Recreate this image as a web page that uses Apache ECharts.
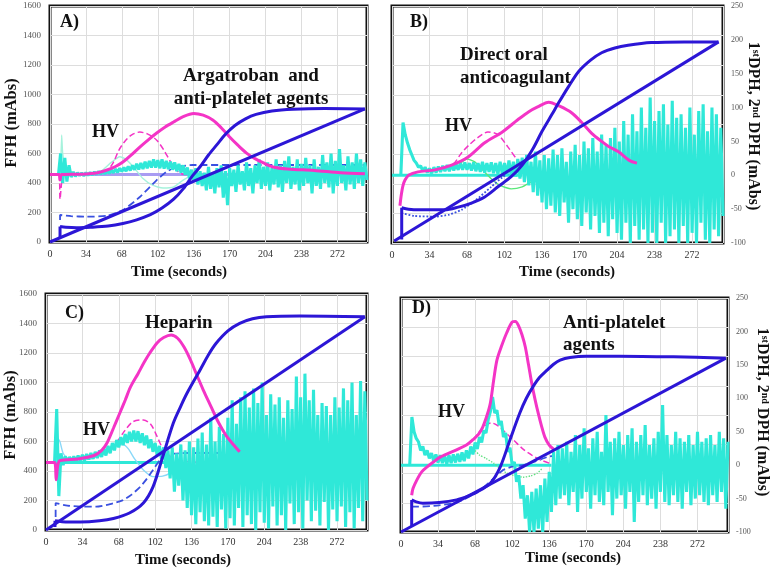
<!DOCTYPE html>
<html>
<head>
<meta charset="utf-8">
<script src="https://cdn.jsdelivr.net/npm/echarts@6/dist/echarts.min.js"></script>
<style>
html, body { margin: 0; background: #fff; }
#chart { width: 770px; height: 568px; }
</style>
</head>
<body>
<div id="chart"></div>
<script>
// time axis ticks (seconds)
const xTicks = [0, 34, 68, 102, 136, 170, 204, 238, 272];

// noisy cyan traces: one sample every 2 s starting at t = 8 s
const NOISE_T0 = 8, NOISE_DT = 2;

// ---- panel A (FFH, left axis) ----
const sigA = [[9.5,28],[9.5,105],[15,100],[25,97],[38,100],[55,108],[69,125],[82,150],[95,185],[106,230],[117,290],[126,360],[135,450],[142,510],[150,590],[158,660],[166,730],[175,790],[185,835],[195,865],[210,888],[230,900],[260,905],[298,902]];
const diagA = [[0,0],[298,902]];
const dashA = [[9.5,150],[9.5,183],[20,175],[35,172],[54,178],[69,217],[85,305],[101,420],[110,475],[117,500],[125,515],[135,522],[298,522]];
const magA = [[0,457],[8.5,457],[9.5,420],[11,457],[30,460],[45,470],[54,488],[62,512],[69,542],[77,590],[85,644],[93,693],[101,739],[109,780],[117,814],[126,850],[136,872],[145,860],[154,827],[162,775],[170,712],[178,655],[186,603],[194,565],[202,536],[211,509],[225,495],[250,485],[275,470],[298,462]];
const magDashA = [[0,457],[8.5,457],[9.5,290],[11,400],[13,457],[40,460],[50,475],[55,490],[60,540],[65,620],[70,675],[77,725],[85,745],[93,730],[101,690],[108,620],[114,545],[120,485],[126,460],[135,457]];
const thinA = [[10,457],[11,725],[12,600],[14,520],[17,480],[22,465],[35,460],[48,480],[58,540],[66,578],[72,560],[80,500],[88,430],[97,385],[107,366],[117,373],[126,420],[134,450],[140,457]];
const zeroA = [[0,457],[298,457]];
const noiseA = [455,
  600, 400, 570, 410, 520, 440, 475, 445, 470, 450,
  468, 448, 470, 452, 472, 455, 475, 458, 478, 460,
  482, 462, 485, 465, 488, 470, 495, 472, 500, 478,
  505, 480, 512, 485, 520, 490, 530, 492, 535, 495,
  545, 500, 550, 505, 560, 505, 555, 500, 560, 498,
  550, 495, 545, 490, 540, 480, 530, 470, 520, 455,
  505, 430, 490, 410, 500, 390, 480, 380, 470, 350,
  510, 360, 470, 330, 500, 370, 520, 300, 480, 250,
  500, 380, 490, 340, 520, 390, 480, 350, 540, 380,
  500, 330, 520, 400, 560, 360, 510, 380, 540, 350,
  500, 390, 560, 370, 520, 340, 550, 400, 580, 360,
  510, 390, 560, 350, 530, 380, 570, 400, 520, 330,
  560, 380, 510, 360, 590, 400, 540, 370, 600, 330,
  550, 380, 630, 400, 520, 350, 580, 390, 540, 360,
  600, 400, 560, 380, 540, 420];

// ---- panel B (DPH, right axis) ----
const sigB = [[8.8,-95],[8.8,-48],[15,-50],[24,-51],[48,-51],[60,-47],[72,-41],[84,-32],[96,-17],[108,-2],[118,15],[128,40],[136,65],[145,90],[151,107],[160,131],[169,153],[180,170],[190,181],[202,188],[214,192],[235,196],[265,197],[296,197]];
const diagB = [[2,-97],[296,197]];
const dashB = [[9,-62],[9,-56],[20,-60],[39,-61],[52,-58],[63,-51],[75,-38],[90,-17],[100,-3],[108,5]];
const magB = [[7.2,-45],[8.5,-28],[10,-15],[11.8,-7],[15,0],[23.5,5],[39,8],[54,15],[69,27],[84,48],[100,64],[114,82],[124,94],[132,101],[142,108],[152,102],[163,92],[172,78],[181,62],[190,50],[196,43],[205,35],[215,22],[222,18]];
const magDashB = [[40,8],[55,16],[63,33],[70,45],[78,56],[87,64],[96,60],[105,42],[114,22],[122,10],[128,5]];
const thinB = [[62,18],[68,24],[75,20],[82,8],[90,-5],[98,-15],[108,-20],[118,-17],[128,-8],[135,0]];
const zeroB = [[0,0],[118,0]];
const noiseB = [0,
  78, 60, 48, 38, 30, 22, 18, 12, 14, 6,
  12, 4, 10, 3, 12, 4, 13, 5, 14, 6,
  15, 6, 16, 7, 17, 8, 18, 8, 19, 8,
  18, 7, 19, 6, 18, 5, 20, 4, 18, 5,
  19, 3, 18, 2, 20, 2, 18, 0, 22, 0,
  20, -2, 24, -5, 26, -10, 30, -15, 20, -25,
  35, -30, 22, -40, 30, -50, 25, -45, 38, -55,
  30, -60, 40, -40, 20, -70, 35, -50, 45, -65,
  30, -75, 50, -55, 40, -80, 55, -60, 35, -85,
  60, -70, 45, -90, 55, -65, 70, -85, 50, -95,
  80, -70, 60, -100, 90, -75, 65, -95, 100, -80,
  70, -100, 115, -85, 80, -100, 95, -70, 105, -100,
  75, -90, 110, -80, 85, -100, 90, -75, 70, -100,
  100, -85, 60, -100, 95, -70, 105, -95, 65, -100,
  100, -80, 90, -90, 70, -60];

// ---- panel C (FFH, left axis) ----
const sigC = [[8.4,20],[8.4,62],[15,56],[32,54],[50,62],[63,78],[78,115],[91,183],[100,292],[109,495],[119,725],[126,840],[132,930],[144,1085],[152,1190],[159,1266],[170,1350],[181,1401],[193,1432],[206,1446],[237,1451],[298,1446]];
const diagC = [[0,0],[298,1446]];
const dashC = [[9,88],[9,183],[20,165],[35,158],[47,158],[60,175],[72,203],[80,240],[88,292],[94,345],[100,407],[106,470],[112,505],[120,518],[132,522],[163,522]];
const magC = [[0,457],[8,457],[9.5,340],[11,440],[13,470],[30,482],[45,505],[52,540],[57,590],[63,690],[69,793],[74,880],[79,970],[86,1060],[92,1140],[97,1200],[104,1270],[110,1305],[117,1322],[123,1300],[129,1240],[135,1153],[141,1050],[147,949],[154,840],[160,746],[165,680],[169,633],[175,580],[181,530]];
const magDashC = [[45,500],[55,530],[63,565],[72,657],[81,733],[91,746],[98,715],[104,631],[109,555],[116,500],[125,470],[141,460]];
const thinC = [[10,460],[11,620],[13,600],[16,520],[22,475],[40,480],[55,520],[65,570],[72,580],[77,550],[83,480],[91,407],[100,362],[109,365],[116,385],[124,430],[132,455]];
const zeroC = [[0,457],[111,457]];
const noiseC = [457,
  820, 230, 520, 440, 500, 460, 495, 462, 500, 465,
  505, 470, 510, 472, 515, 478, 522, 482, 530, 488,
  540, 495, 555, 505, 570, 520, 590, 540, 610, 560,
  630, 575, 650, 590, 665, 600, 675, 600, 670, 590,
  655, 575, 640, 555, 615, 530, 590, 505, 570, 480,
  560, 420, 540, 350, 560, 260, 520, 300, 580, 200,
  540, 150, 600, 100, 560, 40, 620, 120, 660, 60,
  580, 30, 760, 90, 600, 20, 700, 140, 650, 10,
  760, 80, 880, 30, 720, 150, 900, 20, 940, 100,
  830, 40, 960, 0, 860, 120, 1000, 50, 780, 10,
  920, 160, 850, 30, 900, 100, 760, 0, 880, 180,
  820, 40, 1040, 120, 900, 10, 1060, 200, 880, 60,
  950, 130, 780, 30, 860, 190, 840, 0, 780, 140,
  900, 60, 830, 160, 960, 20, 880, 120, 1000, 10,
  780, 150, 1010, 60, 940, 200];

// ---- panel D (DPH, right axis) ----
const sigD = [[9.8,-91],[9.8,-52],[14,-55],[20,-57],[35,-56],[51,-52],[62,-46],[70,-40],[82,-27],[91,-3],[100,38],[109,78],[115,100],[121,117],[127,131],[134,142],[140,151],[146,157],[155,161],[170,163],[200,163],[250,162],[298,160]];
const diagD = [[0,-100],[298,160]];
const dashD = [[10,-62],[15,-62],[30,-61],[51,-56],[65,-45],[75,-34],[85,-20],[94,-7],[103,-2],[112,0],[124,6],[134,12],[140,14]];
const magD = [[9.8,-45],[11,-35],[14.6,-22],[19,-10],[23.7,-3],[30,5],[36,12],[51,23],[60,30],[66,38],[71,46],[75,57],[79,75],[82,93],[85,127],[88,157],[92,177],[97,198],[102,214],[105,215],[108,208],[111,195],[114,177],[117,150],[120,122],[123,98],[126,77],[129,58],[132,42],[136,30],[140,24]];
const magDashD = [[60,30],[66,38],[72,50],[78,60],[83,63],[88,60],[95,50],[103,38],[112,24],[120,15],[128,8],[136,3]];
const thinD = [[68,22],[72,15],[78,10],[85,3],[91,-5],[97,-12],[105,-16],[112,-18],[119,-16],[125,-12],[130,-4]];
const zeroD = [[0,0],[138,0]];
const noiseD = [0,
  72, 50, 40, 35, 22, 28, 15, 22, 10, 18,
  6, 16, 4, 15, 3, 14, 2, 15, 3, 16,
  4, 17, 5, 19, 6, 22, 10, 28, 16, 34,
  24, 42, 34, 52, 48, 68, 80, 102, 78, 82,
  60, 66, 42, 48, 20, 26, 0, 5, -25, -15,
  -50, -30, -80, -45, -100, -40, -100, -35, -95, -30,
  -100, -20, -85, -10, -70, 20, -60, 30, -50, 25,
  -45, 35, -60, 20, -40, 45, -70, 30, -50, 55,
  -40, 25, -65, 40, -45, 50, -55, 20, -60, 75,
  -40, 35, -75, 40, -50, 50, -45, 30, -65, 45,
  -40, 55, -85, 35, -55, 45, -45, 60, -60, 30,
  -50, 40, -65, 50, -40, 90, -55, 45, -60, 30,
  -45, 50, -55, 40, -65, 35, -40, 45, -60, 30,
  -50, 50, -45, 35, -55, 40, -60, 45, -45, 30,
  -55, 50, -40, 40, -65, 35];

const BLUE = '#2c16d6';
const DASH_BLUE = '#3a50e0';
const MAGENTA = '#f434c6';
const CYAN = '#2fe8d8';
const FONT = '"Liberation Serif", "Times New Roman", serif';

const chart = echarts.init(document.getElementById('chart'));

const grids = [
    { left: 50, top: 6, width: 317, height: 236 },
    { left: 392, top: 6, width: 331, height: 237 },
    { left: 46, top: 294, width: 321, height: 236 },
    { left: 401, top: 298, width: 327, height: 234 }
].map(g => ({ ...g, show: true, borderColor: '#111', borderWidth: 3 }));

const gridLine = { show: true, lineStyle: { color: '#dddddd', width: 1 } };
const plain = v => String(v);

const xAxes = grids.map((g, i) => ({
    type: 'value', gridIndex: i, min: 0, max: 300, interval: 34,
    axisLine: { show: false }, axisTick: { show: false },
    splitLine: gridLine,
    axisLabel: { fontFamily: FONT, fontSize: 10, color: '#333', margin: 7, showMaxLabel: false, formatter: plain }
}));

const yAxes = [];
grids.forEach((g, i) => {
    const leftLabels = (i === 0 || i === 2);
    yAxes.push({
        type: 'value', gridIndex: i, position: 'left', min: 0, max: 1600, interval: 200,
        axisLine: { show: false }, axisTick: { show: false },
        splitLine: gridLine,
        axisLabel: { show: leftLabels, fontFamily: FONT, fontSize: 9, color: '#555', margin: 9, formatter: plain }
    });
    yAxes.push({
        type: 'value', gridIndex: i, position: 'right', min: -100, max: 250, interval: 50,
        axisLine: { show: false }, axisTick: { show: false },
        splitLine: { show: false },
        axisLabel: { show: !leftLabels, fontFamily: FONT, fontSize: 8, color: '#555', margin: 8, formatter: plain }
    });
});

const toNoise = arr => arr.map((v, i) => [NOISE_T0 + i * NOISE_DT, v]);

function panel(idx, yIdx, p) {
    const base = { type: 'line', xAxisIndex: idx, yAxisIndex: yIdx, symbol: 'none', showSymbol: false, silent: true, animation: false };
    return [
        { ...base, data: p.zero, lineStyle: { color: p.zeroColor, width: 3 } },
        { ...base, data: p.thin, smooth: 0.2, lineStyle: { color: p.thinColor, width: 1.4, type: p.thinType } },
        { ...base, data: p.dash, smooth: 0.2, lineStyle: { color: DASH_BLUE, width: 1.8, type: p.dashType } },
        { ...base, data: p.magDash, smooth: 0.3, lineStyle: { color: MAGENTA, width: 1.5, type: 'dashed' } },
        { ...base, data: toNoise(p.noise), lineStyle: { color: CYAN, width: 3.1, join: 'bevel' } },
        { ...base, data: p.mag, smooth: 0.3, lineStyle: { color: MAGENTA, width: 3 } },
        { ...base, data: p.sig.slice(0, 2), lineStyle: { color: BLUE, width: 3 } },
        { ...base, data: p.sig.slice(1), smooth: 0.3, lineStyle: { color: BLUE, width: 3 } },
        { ...base, data: p.diag, lineStyle: { color: BLUE, width: 3 } }
    ];
}

const series = [].concat(
    panel(0, 0, { zero: zeroA, zeroColor: '#a99cf2', thin: thinA, thinColor: '#a6f2dc', thinType: 'solid', dash: dashA, dashType: 'dashed', magDash: magDashA, noise: noiseA, mag: magA, sig: sigA, diag: diagA }),
    panel(1, 3, { zero: zeroB, zeroColor: CYAN, thin: thinB, thinColor: '#5ae87a', thinType: 'solid', dash: dashB, dashType: 'dotted', magDash: magDashB, noise: noiseB, mag: magB, sig: sigB, diag: diagB }),
    panel(2, 4, { zero: zeroC, zeroColor: CYAN, thin: thinC, thinColor: '#8ad8f8', thinType: 'solid', dash: dashC, dashType: 'dashed', magDash: magDashC, noise: noiseC, mag: magC, sig: sigC, diag: diagC }),
    panel(3, 7, { zero: zeroD, zeroColor: CYAN, thin: thinD, thinColor: '#60e080', thinType: 'dotted', dash: dashD, dashType: 'dashed', magDash: magDashD, noise: noiseD, mag: magD, sig: sigD, diag: diagD })
);

function txt(text, x, y, size, align) {
    return {
        type: 'text', x: x, y: y, z: 100,
        style: {
            text: text, font: 'bold ' + size + 'px ' + FONT, fill: '#111',
            textAlign: align || 'left', align: align || 'left',
            textVerticalAlign: 'middle', verticalAlign: 'middle'
        }
    };
}
function vtxt(text, x, y, size, rot) {
    const t = txt(text, x, y, size, 'center');
    t.rotation = rot;
    return t;
}
function dphTitle(x, y) {
    const n = { fontSize: 16, fontWeight: 'bold', fontFamily: FONT, fill: '#111', color: '#111' };
    const s = { fontSize: 10, fontWeight: 'bold', fontFamily: FONT, fill: '#111', color: '#111', verticalAlign: 'top' };
    return {
        type: 'text', x: x, y: y, z: 100, rotation: -Math.PI / 2,
        style: {
            text: '{n|1}{s|st}{n|DPH, 2}{s|nd}{n| DPH (mAbs)}',
            rich: { n: n, s: s },
            textAlign: 'center', align: 'center', textVerticalAlign: 'middle', verticalAlign: 'middle'
        }
    };
}

const graphic = [
    // panel A
    txt('A)', 60, 22, 18), txt('HV', 92, 132, 18),
    txt('Argatroban  and', 251, 76, 19, 'center'), txt('anti-platelet agents', 251, 99, 19, 'center'),
    vtxt('FFH (mAbs)', 12, 123, 16.5, Math.PI / 2), txt('Time (seconds)', 179, 272, 15, 'center'),
    // panel B
    txt('B)', 410, 22, 18), txt('Direct oral', 460, 55, 19), txt('anticoagulant', 460, 78, 19),
    txt('HV', 445, 126, 18), dphTitle(753, 126), txt('Time (seconds)', 567, 272, 15, 'center'),
    // panel C
    txt('C)', 65, 313, 18), txt('Heparin', 145, 323, 19), txt('HV', 83, 430, 18),
    vtxt('FFH (mAbs)', 11, 415, 16.5, Math.PI / 2), txt('Time (seconds)', 183, 560, 15, 'center'),
    // panel D
    txt('D)', 412, 308, 18), txt('Anti-platelet', 563, 323, 19), txt('agents', 563, 345, 19),
    txt('HV', 438, 412, 18), dphTitle(762, 412), txt('Time (seconds)', 573, 558, 15, 'center')
];

chart.setOption({
    animation: false,
    backgroundColor: '#fff',
    grid: grids,
    xAxis: xAxes,
    yAxis: yAxes,
    series: series,
    graphic: graphic
});
</script>
</body>
</html>
